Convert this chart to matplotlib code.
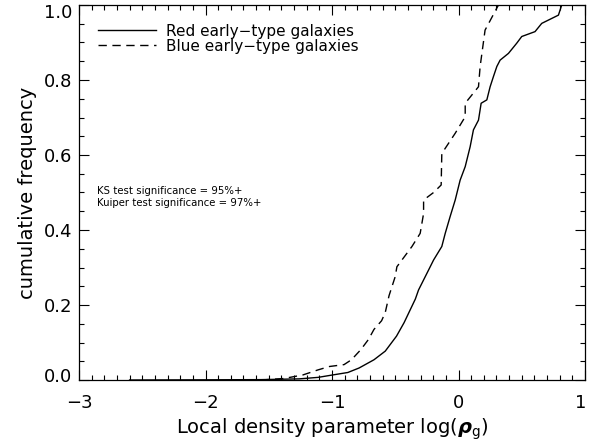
import matplotlib
matplotlib.use("Agg")
import matplotlib.pyplot as plt
import matplotlib.transforms as mtransforms
from matplotlib.ticker import MultipleLocator

# Red early-type galaxies (solid) cumulative distribution
red_x = [-2.6, -2.0, -1.56, -1.26, -1.11, -0.994, -0.875, -0.786, -0.668, -0.579,
         -0.49, -0.43, -0.341, -0.316, -0.237, -0.197, -0.132, -0.105, -0.066,
         -0.026, 0.013, 0.053, 0.092, 0.118, 0.158, 0.179, 0.224, 0.25, 0.276,
         0.303, 0.329, 0.395, 0.46, 0.5, 0.605, 0.658, 0.79, 0.816]
red_y = [0.0, 0.0005, 0.001, 0.003, 0.007, 0.0135, 0.02, 0.032, 0.054, 0.077,
         0.117, 0.153, 0.216, 0.24, 0.293, 0.32, 0.356, 0.391, 0.436,
         0.48, 0.533, 0.569, 0.622, 0.667, 0.693, 0.738, 0.747, 0.782, 0.809,
         0.836, 0.853, 0.871, 0.898, 0.916, 0.929, 0.951, 0.973, 1.0]

# Blue early-type galaxies (dashed) cumulative distribution
blue_x = [-1.56, -1.38, -1.23, -1.11, -1.02, -0.905, -0.846, -0.772, -0.712, -0.668,
          -0.608, -0.579, -0.549, -0.5, -0.487, -0.368, -0.303, -0.276, -0.276,
          -0.197, -0.137, -0.132, -0.026, 0.053, 0.053, 0.158, 0.171, 0.21, 0.316]
blue_y = [0.0, 0.004, 0.0135, 0.027, 0.036, 0.041, 0.054, 0.081, 0.108, 0.135,
          0.158, 0.18, 0.225, 0.276, 0.302, 0.356, 0.391, 0.444, 0.48,
          0.50, 0.52, 0.604, 0.658, 0.702, 0.738, 0.782, 0.836, 0.933, 1.0]

xticks = [-3, -2, -1, 0, 1]
xticklabels = ['\u22123', '\u22122', '\u22121', '0', '1']
yticks = [0.0, 0.2, 0.4, 0.6, 0.8, 1.0]
yticklabels = ['0.0', '0.2', '0.4', '0.6', '0.8', '1.0']

plt.rcParams['font.family'] = ['DejaVu Sans']
fig = plt.figure(figsize=(5.89, 4.48), dpi=100)
ax = fig.add_axes([79/589, 68/448, 506/589, 375/448])

ax.plot(red_x, red_y, color='black', lw=1.0, ls='-', label='Red early\u2212type galaxies')
ax.plot(blue_x, blue_y, color='black', lw=1.0, ls=(0, (6, 4)), label='Blue early\u2212type galaxies')

ax.set_xlim(-3, 1)
ax.set_ylim(0, 1)
ax.set_xticks(xticks)
ax.set_xticklabels(xticklabels)
ax.set_yticks(yticks)
ax.set_yticklabels(yticklabels)
ax.xaxis.set_minor_locator(MultipleLocator(0.1))
ax.yaxis.set_minor_locator(MultipleLocator(0.05))
ax.tick_params(which='both', direction='in', top=True, right=True, labelsize=13, width=0.8)
ax.tick_params(which='major', length=7)
ax.tick_params(which='minor', length=3.5)
ax.tick_params(axis='x', which='major', pad=10)
ax.tick_params(axis='y', which='major', pad=5)
for s in ax.spines.values():
    s.set_linewidth(0.9)

# nudge end labels inward like the original
ylabs = ax.get_yticklabels()
ylabs[-1].set_transform(ylabs[-1].get_transform() +
                        mtransforms.ScaledTranslation(0, -6/100, fig.dpi_scale_trans))
ylabs[0].set_transform(ylabs[0].get_transform() +
                       mtransforms.ScaledTranslation(0, 5/100, fig.dpi_scale_trans))
xlabs = ax.get_xticklabels()
xlabs[-1].set_transform(xlabs[-1].get_transform() +
                        mtransforms.ScaledTranslation(-4/100, 0, fig.dpi_scale_trans))

ax.set_xlabel(r'Local density parameter log($\boldsymbol{\rho}_{\rm g}$)', fontsize=14, labelpad=3)
ax.set_ylabel('cumulative frequency', fontsize=14, labelpad=5)

ax.legend(loc='upper left', bbox_to_anchor=(0.02, 0.975), frameon=False, fontsize=11,
          handlelength=3.8, handletextpad=0.6, labelspacing=0.0, borderaxespad=0.2)

ax.text(0.035, 0.497, 'KS test significance = 95%+', transform=ax.transAxes, fontsize=7.3)
ax.text(0.035, 0.464, 'Kuiper test significance = 97%+', transform=ax.transAxes, fontsize=7.3)

fig.savefig('out.png', dpi=100)
